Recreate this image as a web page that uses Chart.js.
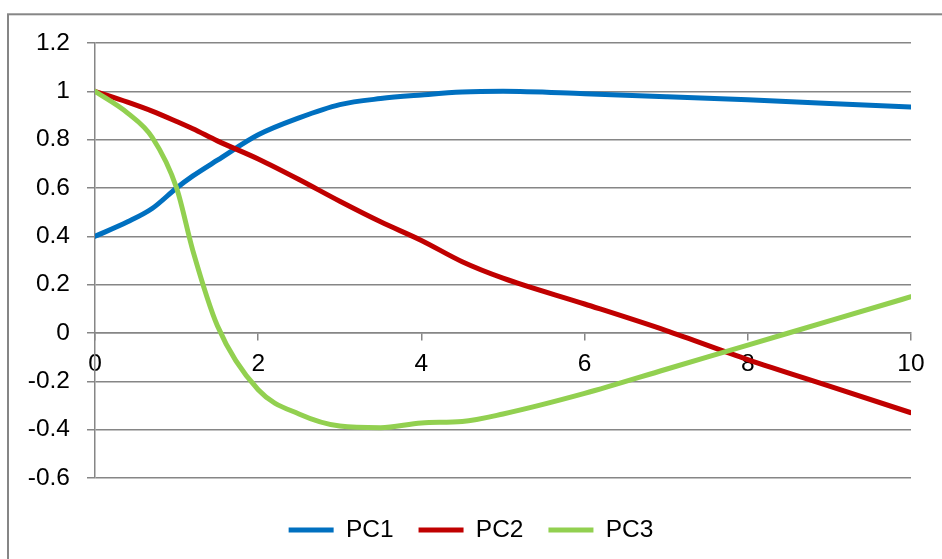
<!DOCTYPE html>
<html>
<head>
<meta charset="utf-8">
<script src="https://cdn.jsdelivr.net/npm/chart.js@4.4.0/dist/chart.umd.min.js"></script>
<style>
  body { margin: 0; background: #fff; }
  canvas { display: block; }
</style>
</head>
<body>
<canvas id="pcChart" width="942" height="559"></canvas>
<script>
// data
const xValues = [0, 0.4, 0.7, 1, 1.2, 1.5, 2, 2.5, 3, 3.5, 4, 4.5, 5, 6, 7, 8, 9, 10];
const pc1 = [0.40, 0.46, 0.515, 0.60, 0.65, 0.715, 0.82, 0.89, 0.945, 0.97, 0.985, 0.997, 1.0, 0.99, 0.978, 0.965, 0.95, 0.935];
const pc2 = [1.0, 0.955, 0.918, 0.875, 0.845, 0.795, 0.72, 0.635, 0.545, 0.46, 0.383, 0.295, 0.227, 0.12, 0.01, -0.11, -0.22, -0.33];
const pc3 = [1.0, 0.91, 0.81, 0.60, 0.34, 0.03, -0.235, -0.335, -0.385, -0.392, -0.372, -0.366, -0.335, -0.25, -0.15, -0.05, 0.05, 0.15];
const seriesNames = ["PC1", "PC2", "PC3"];
const seriesColors = ["#0070C0", "#C00000", "#92D050"];

const gridGray = "#868686";

Chart.defaults.font.family = "'Liberation Sans', Arial, sans-serif";
Chart.defaults.font.size = 24.5;
Chart.defaults.color = "#000";

function toPoints(values) {
    return xValues.map((x, i) => ({ x: x, y: values[i] }));
}

// outer frame like the excel chart border
const framePlugin = {
    id: "frame",
    beforeDraw(chart) {
        const ctx = chart.ctx;
        ctx.save();
        ctx.strokeStyle = gridGray;
        ctx.lineWidth = 2;
        ctx.strokeRect(8, 14.3, 2000, 2000);
        ctx.restore();
    }
};

const allSeries = [pc1, pc2, pc3];

const datasets = allSeries.map((values, i) => ({
    label: seriesNames[i],
    data: toPoints(values),
    borderColor: seriesColors[i],
    backgroundColor: seriesColors[i],
    borderWidth: 5,
    borderCapStyle: "round",
    pointRadius: 0,
    cubicInterpolationMode: "monotone",
    order: allSeries.length - i
}));

new Chart(document.getElementById("pcChart"), {
    type: "line",
    data: { datasets: datasets },
    plugins: [framePlugin],
    options: {
        responsive: false,
        animation: false,
        layout: { padding: { left: 0, right: 0, top: 43, bottom: 6.75 } },
        plugins: {
            tooltip: { enabled: false },
            legend: {
                position: "bottom",
                // empty title only pushes the legend row down
                title: { display: true, text: "", padding: { top: 13.55, bottom: 0 }, font: { size: 1 } },
                labels: {
                    usePointStyle: true,
                    pointStyle: "line",
                    pointStyleWidth: 45,
                    padding: 25,
                    sort: (a, b) => a.datasetIndex - b.datasetIndex
                }
            }
        },
        scales: {
            x: {
                type: "linear",
                position: { y: 0 },
                min: 0,
                max: 10,
                ticks: { stepSize: 2, padding: 10 },
                grid: { drawOnChartArea: false, color: gridGray, lineWidth: 1.5, tickLength: 7 },
                border: { display: true, color: gridGray, width: 1.5 }
            },
            y: {
                min: -0.6,
                max: 1.2,
                ticks: {
                    stepSize: 0.2,
                    padding: 17,
                    callback: v => String(+v.toFixed(1))
                },
                grid: { color: gridGray, lineWidth: 1.5, tickLength: 8 },
                border: { display: true, color: gridGray, width: 1.5 },
                afterFit: scale => { scale.width = 95; }
            },
            // empty right strip so the legend stays centred on the whole canvas
            spacer: {
                position: "right",
                ticks: { display: false },
                grid: { display: false },
                border: { display: false },
                afterFit: scale => { scale.width = 31; }
            }
        }
    }
});
</script>
</body>
</html>
